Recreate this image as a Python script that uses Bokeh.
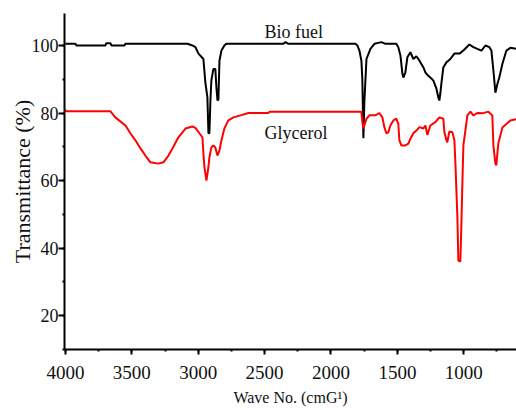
from bokeh.plotting import figure
from bokeh.models import Range1d, SingleIntervalTicker
from bokeh.core.properties import value
from bokeh.embed import file_html
from bokeh.resources import INLINE

# Bio fuel spectrum (wavenumber, transmittance %)
wn_bio = [4000, 3925, 3917, 3699, 3692, 3661, 3654, 3556, 3548, 3081, 3044, 3021, 2998,
          2961, 2946, 2931, 2923, 2916, 2908, 2901, 2886, 2871, 2863, 2855, 2848, 2840,
          2825, 2803, 2788, 2358, 2343, 2321, 1816, 1801, 1786, 1771, 1764, 1756, 1749,
          1733, 1703, 1673, 1620, 1590, 1508, 1493, 1477, 1462, 1455, 1440, 1425, 1402,
          1380, 1357, 1334, 1304, 1289, 1267, 1244, 1229, 1206, 1191, 1184, 1176, 1169,
          1154, 1131, 1101, 1071, 1033, 1003, 958, 928, 898, 867, 837, 807, 792, 777,
          770, 762, 747, 732, 709, 679, 649, 604]
t_bio = [100.5, 100.5, 100.0, 100.0, 100.7, 100.7, 100.0, 100.0, 100.5, 100.5, 100.0, 99.5, 97.6,
         96.0, 89.0, 84.7, 74.0, 74.0, 83.7, 89.6, 93.0, 93.0, 87.6, 83.7, 84.0, 95.5,
         98.5, 100.0, 100.5, 100.5, 101.0, 100.5, 100.5, 100.0, 98.5, 95.5, 90.0, 72.5, 83.0,
         96.0, 99.0, 100.5, 101.0, 100.5, 100.5, 99.5, 97.0, 91.6, 90.5, 92.0, 96.5, 98.0,
         96.0, 96.8, 95.5, 93.5, 92.0, 91.0, 90.2, 89.6, 87.2, 84.5, 83.7, 86.0, 88.6,
         93.5, 95.0, 96.0, 97.6, 97.6, 98.5, 100.3, 99.5, 99.0, 98.5, 100.0, 99.5, 98.5, 92.6,
         89.6, 86.0, 88.6, 90.6, 94.6, 98.5, 99.3, 99.0]

# Glycerol spectrum (wavenumber, transmittance %)
wn_gly = [4005, 3992, 3661, 3624, 3548, 3511, 3473, 3435, 3398, 3360, 3300, 3262, 3224,
          3194, 3149, 3096, 3044, 3021, 2991, 2968, 2961, 2953, 2938, 2923, 2916, 2901,
          2886, 2871, 2855, 2840, 2825, 2803, 2773, 2735, 2682, 2622, 2471, 2463, 1771,
          1764, 1756, 1749, 1733, 1711, 1666, 1636, 1613, 1598, 1583, 1568, 1553, 1530,
          1508, 1493, 1485, 1470, 1440, 1417, 1402, 1380, 1357, 1334, 1304, 1289, 1274,
          1252, 1214, 1184, 1154, 1146, 1131, 1124, 1109, 1086, 1071, 1063, 1048, 1041,
          1026, 1018, 1011, 1003, 988, 973, 950, 928, 898, 860, 815, 785, 777, 762, 755,
          740, 709, 649, 604]
t_gly = [81.0, 80.5, 80.5, 78.7, 76.3, 74.0, 71.9, 69.5, 67.4, 65.4, 65.0, 65.4, 67.4,
         69.5, 72.8, 75.4, 76.0, 75.6, 74.0, 72.8, 68.0, 63.9, 60.0, 64.0, 66.8, 69.8,
         70.4, 69.8, 67.4, 68.9, 71.9, 75.4, 77.8, 78.7, 79.3, 80.0, 80.0, 80.4, 80.4,
         77.3, 75.4, 76.3, 78.3, 79.3, 79.3, 80.0, 78.7, 75.8, 74.0, 74.3, 76.3, 77.8,
         78.3, 76.8, 71.9, 70.4, 70.4, 70.9, 72.4, 74.0, 74.8, 75.8, 75.4, 76.3, 73.5,
         76.3, 77.3, 78.7, 78.3, 74.3, 72.0, 71.3, 74.5, 74.3, 72.0, 65.0, 49.0, 36.3,
         36.0, 47.0, 58.5, 70.4, 74.8, 79.3, 80.4, 79.3, 80.0, 79.9, 80.4, 79.3, 70.4, 65.0, 64.5,
         71.0, 75.7, 77.8, 78.2]

x_ticks_interval = 500
y_ticks_interval = 20

FONT = "Liberation Serif"

p = figure(width=516, height=408,
           x_range=Range1d(4007, 603), y_range=Range1d(9.93, 109.48),
           output_backend="svg", toolbar_location=None,
           min_border_left=64, min_border_right=0, min_border_top=13, min_border_bottom=57)

p.outline_line_color = None
p.xgrid.visible = False
p.ygrid.visible = False
p.background_fill_color = "white"
p.border_fill_color = "white"

p.line(wn_bio, t_bio, line_color="black", line_width=2)
p.line(wn_gly, t_gly, line_color="red", line_width=2)

p.text(x=[2501], y=[104.1], text=["Bio fuel"], text_font=value(FONT),
       text_font_size="18px", text_color="#111111", text_baseline="middle", text_align="left")
p.text(x=[2501], y=[74.2], text=["Glycerol"], text_font=value(FONT),
       text_font_size="18px", text_color="#111111", text_baseline="middle", text_align="left")

p.xaxis.ticker = SingleIntervalTicker(interval=x_ticks_interval, num_minor_ticks=2)
p.yaxis.ticker = SingleIntervalTicker(interval=y_ticks_interval, num_minor_ticks=2)

for ax in (p.xaxis, p.yaxis):
    ax.axis_line_width = 2
    ax.axis_line_color = "black"
    ax.major_tick_line_width = 2
    ax.minor_tick_line_width = 2
    ax.major_tick_line_color = "black"
    ax.minor_tick_line_color = "black"
    ax.major_tick_in = 0
    ax.minor_tick_in = 0
    ax.major_label_text_font = FONT
    ax.major_label_text_color = "#111111"
    ax.axis_label_text_font = FONT
    ax.axis_label_text_font_style = "normal"
    ax.axis_label_text_color = "#111111"

p.xaxis.major_tick_out = 5
p.xaxis.minor_tick_out = 2
p.yaxis.major_tick_out = 6
p.yaxis.minor_tick_out = 2

p.xaxis.major_label_text_font_size = "19px"
p.yaxis.major_label_text_font_size = "18px"
p.xaxis.major_label_standoff = 11
p.yaxis.major_label_standoff = 0

p.xaxis.axis_label = "Wave No. (cmG\u00b9)"
p.yaxis.axis_label = "Transmittance (%)"
p.xaxis.axis_label_text_font_size = "16px"
p.yaxis.axis_label_text_font_size = "22px"
p.xaxis.axis_label_standoff = 7
p.yaxis.axis_label_standoff = -6

open("out.html", "w").write(file_html(p, INLINE))
